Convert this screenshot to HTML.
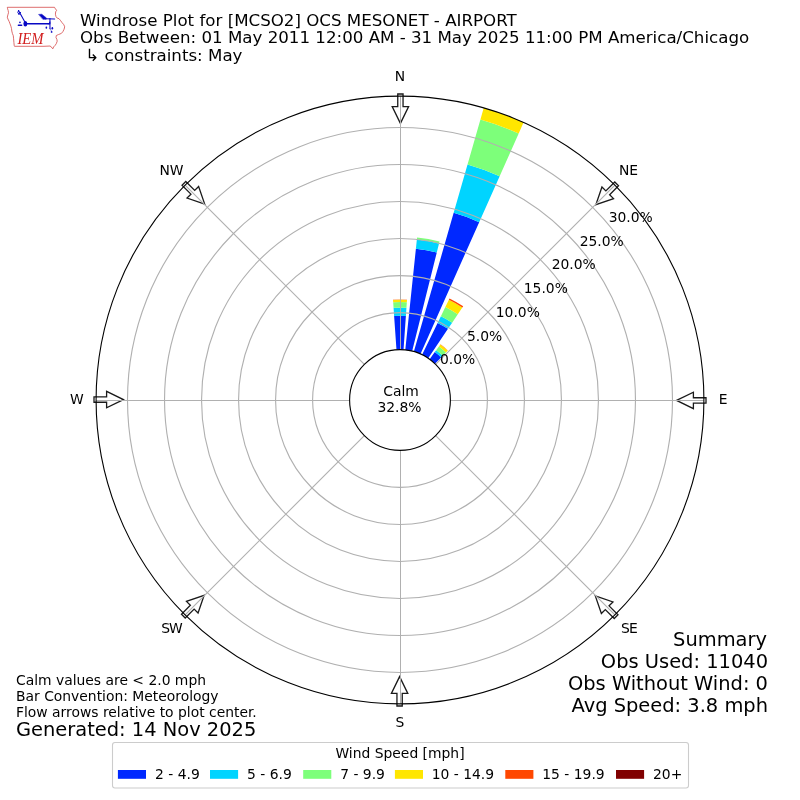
<!DOCTYPE html><html><head><meta charset="utf-8"><title>Windrose Plot</title><style>html,body{margin:0;padding:0;background:#fff}svg{display:block;will-change:transform}text{font-family:"DejaVu Sans","Liberation Sans",sans-serif}</style></head><body>
<svg width="800" height="800" viewBox="0 0 800 800">
<rect width="800" height="800" fill="#fff"/>
<g id="logo">
<path d="M7.3 7.3 L54.5 7.3 L55.4 8.8 L56.6 10.3 L55.7 11.8 L55.4 14.2 L56 16.6 L57.2 18.1 L59 18.7 L60.5 20.5 L62 22.6 L63.8 24.7 L64.7 26.8 L64.1 29.2 L62.9 31.6 L61.4 33.4 L58.4 34.6 L56.3 35.5 L56 37.6 L56.9 39.4 L57.2 41.2 L56.3 43.6 L55.1 45.4 L53.6 46.9 L53 48.7 L51.8 47.8 L50.3 46 L44 46.3 L14.5 46.3 L14.2 45.4 L13.9 42.4 L13.6 38.8 L13.3 35.8 L12.4 33.4 L11.8 31 L11.5 28.6 L10.9 26.2 L10 23.8 L9.1 21.4 L7.9 19 L7.3 17.2 L7.9 14.8 L8.5 12.7 L8.2 10.6 L7.6 8.8 Z" fill="#fff" stroke="#d23c3c" stroke-width="0.75" stroke-linejoin="round"/>
<g stroke="#0808c4" fill="#0808c4" stroke-linecap="round" stroke-linejoin="round">
<path d="M18.5 10.5 L24.6 21.4" stroke-width="1.1" fill="none"/>
<path d="M18.5 10.4 Q16.6 12.4 19.0 14.7 M20.6 12.3 L19.3 14.1" stroke-width="1.0" fill="none"/>
<ellipse cx="25.35" cy="23.7" rx="1.95" ry="2.7" stroke="none"/>
<path d="M26.5 23.75 L49.4 23.75" stroke-width="1.45" fill="none"/>
<path d="M47.4 24.2 Q49.3 23.4 49.5 21.4 L50.4 21.4 L50.4 24.2 Z" stroke="none"/>
<path d="M49.95 18.4 L49.95 28.8" stroke-width="1.05" fill="none"/>
<path d="M50.2 28.6 L51.2 30.6" stroke-width="0.8" fill="none" stroke-opacity="0.6"/>
<path d="M45.8 18.8 L54.6 19.0" stroke-width="1.15" fill="none"/>
<path d="M38.9 14.4 L41.8 14.25 L46.4 17.9 L46.2 19.3 L43.1 19.3 Z" stroke-width="0.5"/>
<ellipse cx="46.35" cy="27.7" rx="0.85" ry="1.1" stroke="none"/><ellipse cx="52.35" cy="28.2" rx="0.85" ry="1.3" stroke="none"/><ellipse cx="51.6" cy="31.9" rx="0.85" ry="0.95" stroke="none"/>
<circle cx="19.95" cy="22.4" r="0.8" stroke="none"/><path d="M18.4 25.2 L21.6 25.2" stroke-width="1.5" fill="none"/>
</g>
<text transform="translate(17.4 43.9) scale(0.84 1)" x="0" y="0" font-size="17.5" font-style="italic" fill="#d21e1e" style="font-family:'Liberation Serif',serif">IEM</text>
</g>
<g font-size="16.67" fill="#000">
<text x="80" y="25.5">Windrose Plot for [MCSO2] OCS MESONET - AIRPORT</text>
<text x="80" y="43.3">Obs Between: 01 May 2011 12:00 AM - 31 May 2025 11:00 PM America/Chicago</text>
<text x="80" y="60.9" xml:space="preserve"> ↳ constraints: May</text>
</g>
<g>
<path d="M396.48 349.72L394.12 315.91A84.3 84.3 0 0 1 405.88 315.91L403.52 349.72A50.4 50.4 0 0 0 396.48 349.72Z" fill="#0028ff"/>
<path d="M394.12 315.91L393.56 307.87A92.35 92.35 0 0 1 406.44 307.87L405.88 315.91A84.3 84.3 0 0 0 394.12 315.91Z" fill="#00d4ff"/>
<path d="M393.56 307.87L393.17 302.29A97.95 97.95 0 0 1 406.83 302.29L406.44 307.87A92.35 92.35 0 0 0 393.56 307.87Z" fill="#7dff7a"/>
<path d="M393.17 302.29L393.01 300.04A100.2 100.2 0 0 1 406.99 300.04L406.83 302.29A97.95 97.95 0 0 0 393.17 302.29Z" fill="#ffe600"/>
<path d="M393.01 300.04L392.98 299.65A100.6 100.6 0 0 1 407.02 299.65L406.99 300.04A100.2 100.2 0 0 0 393.01 300.04Z" fill="#ff4700"/>
<path d="M405.27 349.88L415.9 248.73A152.1 152.1 0 0 1 436.8 252.42L412.19 351.1A50.4 50.4 0 0 0 405.27 349.88Z" fill="#0028ff"/>
<path d="M415.9 248.73L416.86 239.58A161.3 161.3 0 0 1 439.02 243.49L436.8 252.42A152.1 152.1 0 0 0 415.9 248.73Z" fill="#00d4ff"/>
<path d="M416.86 239.58L417.07 237.59A163.3 163.3 0 0 1 439.51 241.55L439.02 243.49A161.3 161.3 0 0 0 416.86 239.58Z" fill="#7dff7a"/>
<path d="M413.89 351.55L453.67 212.84A194.7 194.7 0 0 1 479.19 222.13L420.5 353.96A50.4 50.4 0 0 0 413.89 351.55Z" fill="#0028ff"/>
<path d="M453.67 212.84L467.53 164.49A245 245 0 0 1 499.65 176.18L479.19 222.13A194.7 194.7 0 0 0 453.67 212.84Z" fill="#00d4ff"/>
<path d="M467.53 164.49L480.43 119.5A291.8 291.8 0 0 1 518.69 133.43L499.65 176.18A245 245 0 0 0 467.53 164.49Z" fill="#7dff7a"/>
<path d="M480.43 119.5L483.77 107.87A303.9 303.9 0 0 1 523.61 122.37L518.69 133.43A291.8 291.8 0 0 0 480.43 119.5Z" fill="#ffe600"/>
<path d="M422.09 354.7L437.61 322.88A85.8 85.8 0 0 1 447.98 328.87L428.18 358.22A50.4 50.4 0 0 0 422.09 354.7Z" fill="#0028ff"/>
<path d="M437.61 322.88L440.9 316.14A93.3 93.3 0 0 1 452.17 322.65L447.98 328.87A85.8 85.8 0 0 0 437.61 322.88Z" fill="#00d4ff"/>
<path d="M440.9 316.14L445.33 307.06A103.4 103.4 0 0 1 457.82 314.28L452.17 322.65A93.3 93.3 0 0 0 440.9 316.14Z" fill="#7dff7a"/>
<path d="M445.33 307.06L448.88 299.78A111.5 111.5 0 0 1 462.35 307.56L457.82 314.28A103.4 103.4 0 0 0 445.33 307.06Z" fill="#ffe600"/>
<path d="M448.88 299.78L449.54 298.44A113 113 0 0 1 463.19 306.32L462.35 307.56A111.5 111.5 0 0 0 448.88 299.78Z" fill="#ff4700"/>
<path d="M429.62 359.23L434.8 352.11A59.2 59.2 0 0 1 441.12 357.42L435.01 363.75A50.4 50.4 0 0 0 429.62 359.23Z" fill="#0028ff"/>
<path d="M434.8 352.11L436.15 350.25A61.5 61.5 0 0 1 442.72 355.76L441.12 357.42A59.2 59.2 0 0 0 434.8 352.11Z" fill="#00d4ff"/>
<path d="M436.15 350.25L438.91 346.44A66.2 66.2 0 0 1 445.99 352.38L442.72 355.76A61.5 61.5 0 0 0 436.15 350.25Z" fill="#7dff7a"/>
<path d="M438.91 346.44L440.35 344.46A68.65 68.65 0 0 1 447.69 350.62L445.99 352.38A66.2 66.2 0 0 0 438.91 346.44Z" fill="#ffe600"/>
<path d="M440.35 344.46L440.53 344.22A68.95 68.95 0 0 1 447.9 350.4L447.69 350.62A68.65 68.65 0 0 0 440.35 344.46Z" fill="#ff4700"/>
</g>
<g fill="#fff" stroke="#1a1a1a" stroke-width="1.3" stroke-linejoin="miter">
<path d="M400.4 123.4L392.2 106.6L397.75 106.6L397.75 94L403.05 94L403.05 106.6L408.6 106.6Z"/>
<path d="M595.87 204.7L601.95 187.02L605.87 190.94L614.78 182.03L618.53 185.78L609.62 194.69L613.55 198.62Z"/>
<path d="M676.6 400.4L693.4 392.2L693.4 397.75L706 397.75L706 403.05L693.4 403.05L693.4 408.6Z"/>
<path d="M595.3 595.87L612.98 601.95L609.06 605.87L617.97 614.78L614.22 618.53L605.31 609.62L601.38 613.55Z"/>
<path d="M399.6 676.6L407.8 693.4L402.25 693.4L402.25 706L396.95 706L396.95 693.4L391.4 693.4Z"/>
<path d="M204.13 595.3L198.05 612.98L194.13 609.06L185.22 617.97L181.47 614.22L190.38 605.31L186.45 601.38Z"/>
<path d="M123.4 399.6L106.6 407.8L106.6 402.25L94 402.25L94 396.95L106.6 396.95L106.6 391.4Z"/>
<path d="M204.7 204.13L187.02 198.05L190.94 194.13L182.03 185.22L185.78 181.47L194.69 190.38L198.62 186.45Z"/>
</g>
<g fill="none" stroke="#b0b0b0" stroke-width="1.11">
<circle cx="400" cy="400" r="87.41"/>
<circle cx="400" cy="400" r="124.43"/>
<circle cx="400" cy="400" r="161.44"/>
<circle cx="400" cy="400" r="198.46"/>
<circle cx="400" cy="400" r="235.47"/>
<circle cx="400" cy="400" r="272.49"/>
<path d="M400.5 96.1 V349.6 M400.5 450.4 V703.9 M96.1 400.5 H349.6 M450.4 400.5 H703.9" stroke-width="1"/>
<path d="M435.64 364.36L614.89 185.11"/>
<path d="M435.64 435.64L614.89 614.89"/>
<path d="M364.36 435.64L185.11 614.89"/>
<path d="M364.36 364.36L185.11 185.11"/>
</g>
<circle cx="400" cy="400" r="303.9" fill="none" stroke="#000" stroke-width="1.11"/>
<circle cx="400" cy="400" r="50.4" fill="#fff" stroke="#000" stroke-width="1.11"/>
<g font-size="13.89" text-anchor="middle" fill="#000">
<text x="400" y="80.75">N</text>
<text x="628.47" y="175.38">NE</text>
<text x="723.1" y="403.85">E</text>
<text x="628.92" y="633.22" letter-spacing="-0.9">SE</text>
<text x="400" y="726.95">S</text>
<text x="171.53" y="633.22" letter-spacing="-0.9">SW</text>
<text x="76.9" y="403.85">W</text>
<text x="171.53" y="175.38">NW</text>
</g>
<g font-size="13.89" fill="#000">
<text x="440" y="363.7">0.0%</text>
<text x="466.9" y="341">5.0%</text>
<text x="495.8" y="317">10.0%</text>
<text x="523.8" y="293">15.0%</text>
<text x="551.7" y="268.9">20.0%</text>
<text x="579.7" y="245.9">25.0%</text>
<text x="608.7" y="221.9">30.0%</text>
</g>
<g font-size="13.89" text-anchor="middle" fill="#000">
<text x="401" y="396.2">Calm</text><text x="399.5" y="412">32.8%</text>
</g>
<g font-size="13.89" fill="#000">
<text x="16" y="685">Calm values are &lt; 2.0 mph</text>
<text x="16" y="701">Bar Convention: Meteorology</text>
<text x="16" y="717">Flow arrows relative to plot center.</text>
</g>
<text x="16" y="736.1" font-size="19.44" fill="#000">Generated: 14 Nov 2025</text>
<g font-size="19.44" text-anchor="end" fill="#000">
<text x="767" y="646.2">Summary</text>
<text x="768" y="668">Obs Used: 11040</text>
<text x="768" y="690.4">Obs Without Wind: 0</text>
<text x="768" y="712.2">Avg Speed: 3.8 mph</text>
</g>
<rect x="112.5" y="742.5" width="576" height="45.5" rx="2.5" fill="#fff" fill-opacity="0.8" stroke="#cccccc" stroke-width="1.1"/>
<text x="400" y="758" font-size="13.89" text-anchor="middle" fill="#000">Wind Speed [mph]</text>
<g font-size="13.89" fill="#000">
<rect x="117.9" y="770" width="28.1" height="8.8" fill="#0028ff"/>
<text x="155" y="778.8">2 - 4.9</text>
<rect x="210" y="770" width="28.1" height="8.8" fill="#00d4ff"/>
<text x="247" y="778.8">5 - 6.9</text>
<rect x="303.2" y="770" width="28.1" height="8.8" fill="#7dff7a"/>
<text x="340.2" y="778.8">7 - 9.9</text>
<rect x="394.9" y="770" width="28.1" height="8.8" fill="#ffe600"/>
<text x="431.7" y="778.8">10 - 14.9</text>
<rect x="505.3" y="770" width="28.1" height="8.8" fill="#ff4700"/>
<text x="542.3" y="778.8">15 - 19.9</text>
<rect x="616" y="770" width="28.1" height="8.8" fill="#800000"/>
<text x="653" y="778.8">20+</text>
</g>
</svg></body></html>
